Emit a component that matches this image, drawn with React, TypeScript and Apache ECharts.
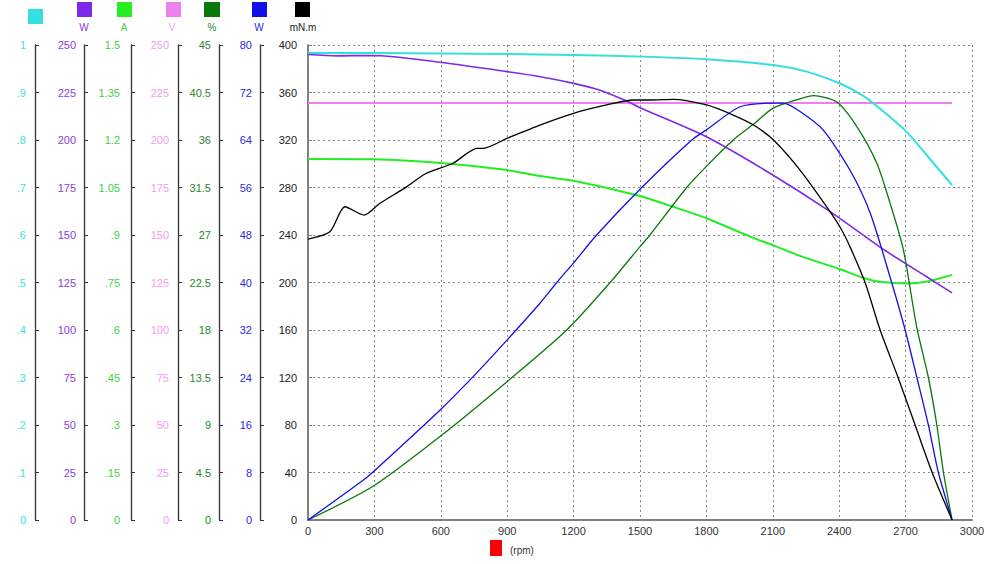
import React, { useEffect, useRef } from "react";
import * as echarts from "echarts";

// ---- data ----
const xTicks = [0, 300, 600, 900, 1200, 1500, 1800, 2100, 2400, 2700, 3000];

const cyanRpm = [0, 300, 600, 900, 1200, 1545, 1801, 2102, 2253, 2404, 2509, 2600, 2705, 2810, 2910];
const cyanVal = [0.983, 0.983, 0.982, 0.981, 0.979, 0.975, 0.97, 0.958, 0.944, 0.919, 0.893, 0.86, 0.817, 0.76, 0.705];

const purpleRpm = [0, 130, 294, 596, 899, 1050, 1200, 1319, 1440, 1500, 1800, 2100, 2359, 2600, 2797, 2910];
const purpleVal = [245, 244.3, 244.5, 240.9, 236, 233.3, 229.8, 226.2, 220.5, 217, 201.7, 181.6, 162.3, 142.4, 127.9, 119.5];

const greenRpm = [0, 300, 600, 900, 1048, 1200, 1500, 1650, 1800, 1997, 2100, 2223, 2404, 2508, 2585, 2707, 2797, 2910];
const greenVal = [1.14, 1.139, 1.127, 1.105, 1.086, 1.071, 1.023, 0.989, 0.953, 0.895, 0.868, 0.834, 0.792, 0.765, 0.752, 0.747, 0.753, 0.774];

const pinkRpm = [0, 2910];
const pinkVal = [219.5, 219.5];

const dkGreenRpm = [0, 294, 596, 899, 1169, 1365, 1500, 1545, 1711, 1800, 1921, 2019, 2100, 2223, 2284, 2389, 2479, 2570, 2630, 2690, 2750, 2803, 2841, 2871, 2910];
const dkGreenVal = [0, 3.2, 7.9, 13.1, 18, 22.5, 25.9, 27, 31.5, 33.5, 36, 37.6, 39, 39.9, 40.2, 39.6, 37.3, 33.8, 30.0, 25.6, 18.3, 13.5, 9, 4.5, 0];

const blueRpm = [0, 249, 294, 596, 745, 899, 1048, 1124, 1200, 1304, 1508, 1734, 1800, 1952, 2101, 2146, 2223, 2327, 2449, 2540, 2637, 2698, 2751, 2803, 2848, 2910];
const blueVal = [0, 6.7, 8.1, 18.5, 24.1, 30.3, 36.5, 40, 43.3, 48, 56, 64, 65.7, 69.6, 70.2, 70.2, 68.8, 65.7, 58.9, 51.7, 40, 32, 24, 16, 8, 0];

const blackRpm = [0, 99, 167, 253, 325, 447, 529, 655, 764, 791, 899, 1048, 1200, 1349, 1470, 1545, 1650, 1801, 1921, 2013, 2103, 2223, 2359, 2412, 2449, 2517, 2585, 2666, 2743, 2820, 2910];
const blackVal = [236.6, 242.8, 263.8, 256.8, 266.7, 280.7, 291.4, 300.4, 313, 313, 321.4, 332.6, 342.5, 349.5, 353.7, 353.7, 354.2, 349.5, 341, 332.6, 320, 294.7, 259.6, 244, 230, 200, 160, 120, 80, 40, 0];

const unitLabels = ["", "W", "A", "V", "%", "W", "mN.m"];
const xUnit = "(rpm)";

// axis ranges: [max, interval]
const axisCyan = [1, 0.1];
const axisPurple = [250, 25];
const axisGreen = [1.5, 0.15];
const axisPink = [250, 25];
const axisDkGreen = [45, 4.5];
const axisBlue = [80, 8];
const axisMain = [400, 40];

const C = {
  cyan: "#33e0e0",
  purple: "#8028e8",
  green: "#22ee22",
  pink: "#ee80ee",
  dkGreen: "#0a780a",
  blue: "#1010e8",
  black: "#000000",
};
const LC = {
  cyan: "#44dddd",
  purple: "#8a3ee0",
  green: "#44d044",
  pink: "#f0a0f0",
  dkGreen: "#2a882a",
  blue: "#2a2ae0",
  black: "#222222",
};

const zip = (a: number[], b: number[]) => a.map((x, i) => [x, b[i]]);
const fmt = (v: number) => {
  const r = Math.round(v * 1000) / 1000;
  let s = String(r);
  if (s.startsWith("0.")) s = s.slice(1);
  return s;
};

const FONT = "Liberation Sans, Arial, sans-serif";

function yAx(range: number[], offset: number, color: string, margin: number, main = false) {
  return {
    type: "value",
    position: "left",
    offset,
    min: 0,
    max: range[0],
    interval: range[1],
    axisLine: { show: true, onZero: false, lineStyle: { color: main ? "#808080" : "#333", width: main ? 2 : 1.3 } },
    axisTick: { show: true, inside: true, length: 4, lineStyle: { color: main ? "#808080" : "#333" } },
    axisLabel: { color, fontSize: 11, fontFamily: FONT, margin, formatter: fmt },
    splitLine: main
      ? { show: true, lineStyle: { color: "#888", type: [2, 3], width: 1 } }
      : { show: false },
  };
}

export default function App() {
  const ref = useRef<HTMLDivElement>(null);
  useEffect(() => {
    if (!ref.current) return;
    const chart = echarts.init(ref.current, null, { renderer: "svg" });
    const sq = (x: number, y: number, w: number, h: number, fill: string) => ({
      type: "rect",
      shape: { x, y, width: w, height: h },
      style: { fill },
    });
    const txt = (x: number, y: number, t: string, fill: string, align = "center") => ({
      type: "text",
      x,
      y,
      style: { text: t, fill, fontSize: 10, fontFamily: FONT, align, verticalAlign: "middle" },
    });
    const option: any = {
      animation: false,
      backgroundColor: "#ffffff",
      grid: { left: 308, right: 28, top: 45, bottom: 44, containLabel: false },
      xAxis: {
        type: "value",
        min: 0,
        max: 3000,
        interval: 300,
        axisLine: { show: true, onZero: false, lineStyle: { color: "#808080", width: 2 } },
        axisTick: { show: false },
        axisLabel: {
          color: "#333",
          fontSize: 11,
          fontFamily: FONT,
          margin: 5,
          formatter: (v: number) => (xTicks.includes(v) ? String(v) : ""),
        },
        splitLine: { show: true, lineStyle: { color: "#888", type: [2, 3], width: 1 } },
      },
      yAxis: [
        yAx(axisMain, 0, LC.black, 11, true),
        yAx(axisCyan, 273, LC.cyan, 9),
        yAx(axisPurple, 224, LC.purple, 8),
        yAx(axisGreen, 177, LC.green, 11),
        yAx(axisPink, 130, LC.pink, 9),
        yAx(axisDkGreen, 89, LC.dkGreen, 8),
        yAx(axisBlue, 48, LC.blue, 8),
      ],
      series: [
        { name: "pink", data: zip(pinkRpm, pinkVal), yAxisIndex: 4, color: C.pink, lw: 2 },
        { name: "cyan", data: zip(cyanRpm, cyanVal), yAxisIndex: 1, color: C.cyan, lw: 2 },
        { name: "green", data: zip(greenRpm, greenVal), yAxisIndex: 3, color: C.green, lw: 2 },
        { name: "purple", data: zip(purpleRpm, purpleVal), yAxisIndex: 2, color: C.purple, lw: 1.6 },
        { name: "dkgreen", data: zip(dkGreenRpm, dkGreenVal), yAxisIndex: 5, color: C.dkGreen, lw: 1.3 },
        { name: "blue", data: zip(blueRpm, blueVal), yAxisIndex: 6, color: C.blue, lw: 1.3 },
        { name: "black", data: zip(blackRpm, blackVal), yAxisIndex: 0, color: C.black, lw: 1.3 },
      ].map((s) => ({
        type: "line",
        name: s.name,
        data: s.data,
        yAxisIndex: s.yAxisIndex,
        showSymbol: false,
        symbol: "none",
        smooth: 0.25,
        lineStyle: { color: s.color, width: s.lw },
        itemStyle: { color: s.color },
      })),
      graphic: [
        sq(28, 9, 15, 15, C.cyan),
        sq(77, 2, 15, 15, C.purple),
        sq(117, 2, 15, 15, C.green),
        sq(166, 2, 15, 15, C.pink),
        sq(204, 2, 16, 15, C.dkGreen),
        sq(252, 2, 15, 15, C.blue),
        sq(295, 2, 15, 15, C.black),
        txt(84, 27, unitLabels[1], LC.purple),
        txt(124, 27, unitLabels[2], LC.green),
        txt(172, 27, unitLabels[3], LC.pink),
        txt(212, 27, unitLabels[4], LC.dkGreen),
        txt(259, 27, unitLabels[5], LC.blue),
        txt(303, 27, unitLabels[6], "#222"),
        sq(490, 540, 12, 16, "#ff0000"),
        txt(510, 550, xUnit, "#333", "left"),
      ],
    };
    chart.setOption(option);
    return () => chart.dispose();
  }, []);
  return <div ref={ref} style={{ width: 1000, height: 564, position: "absolute", left: 0, top: 0 }} />;
}
